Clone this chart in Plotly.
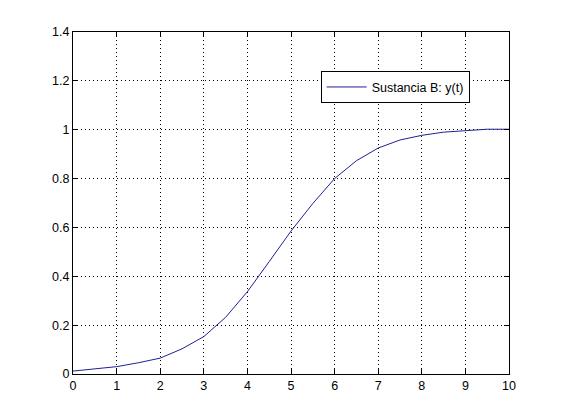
import plotly.graph_objects as go

# time (s) and response
t = [0, 0.5, 1, 1.5, 2, 2.5, 3, 3.5, 4, 4.5, 5, 5.5, 6, 6.5, 7, 7.5, 8, 8.5, 9, 9.5, 10]
y = [0.012, 0.02, 0.03, 0.046, 0.065, 0.103, 0.153, 0.232, 0.337, 0.46, 0.585,
     0.698, 0.80, 0.873, 0.925, 0.958, 0.977, 0.99, 0.997, 1.002, 1.002]

x_ticks = list(range(0, 11))
y_ticks = [0, 0.2, 0.4, 0.6, 0.8, 1, 1.2, 1.4]
y_labels = ["0", "0.2", "0.4", "0.6", "0.8", "1", "1.2", "1.4"]

AXIS = dict(
    showline=True, linecolor="black", linewidth=1, mirror="ticks",
    ticks="inside", ticklen=5, tickcolor="black", tickwidth=1,
    showgrid=True, gridcolor="black", gridwidth=1, griddash="1px,3px",
    zeroline=False, tickfont=dict(size=12.5, color="black"),
)

fig = go.Figure()
fig.add_trace(go.Scatter(
    x=t, y=y, mode="lines", name="Sustancia B: y(t)",
    line=dict(color="#1f1f99", width=1),
))

# the page body adds an 8px offset, so margins are trimmed to land the axes
fig.update_layout(
    width=561, height=420,
    paper_bgcolor="white", plot_bgcolor="white",
    font=dict(family="Liberation Sans, Arial, sans-serif", color="black", size=12.5),
    margin=dict(l=65, r=60, t=24, b=54),
    showlegend=True,
    legend=dict(
        x=0.568, y=0.885, xanchor="left", yanchor="top",
        bgcolor="white", bordercolor="black", borderwidth=1,
        font=dict(size=12.5), itemwidth=40,
    ),
    xaxis=dict(range=[0, 10], tickvals=x_ticks, **AXIS),
    yaxis=dict(range=[0, 1.4], tickvals=y_ticks, ticktext=y_labels, **AXIS),
)

fig.write_html("out.html")
